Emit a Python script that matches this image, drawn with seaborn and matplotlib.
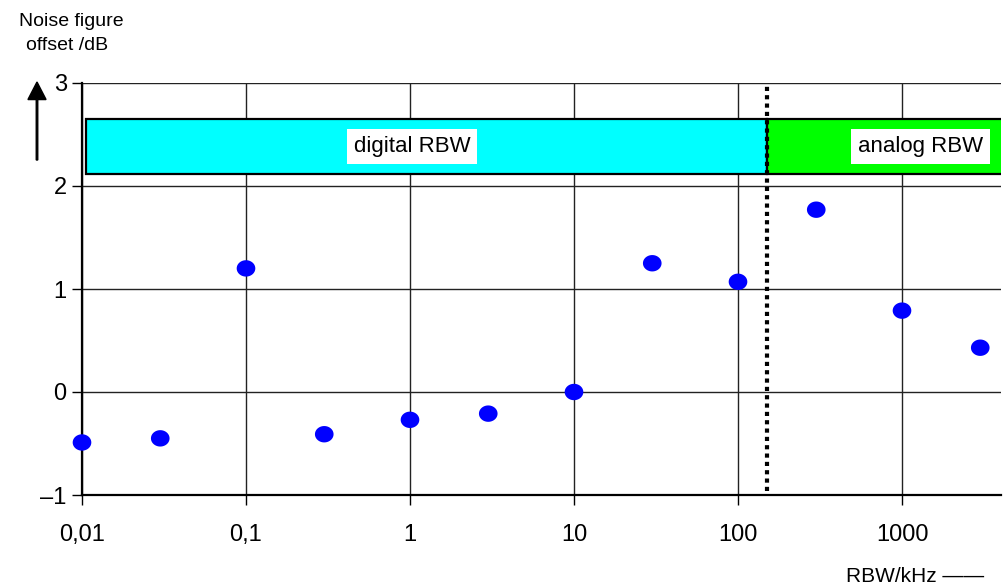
import numpy as np
import pandas as pd
import matplotlib
matplotlib.use("Agg")
import matplotlib.pyplot as plt
from matplotlib.path import Path
from matplotlib.patches import Rectangle
import seaborn as sns

# Data
rbw_khz = [0.01, 0.03, 0.1, 0.3, 1, 3, 10, 30, 100, 300, 1000, 3000]
nf_offset_db = [-0.49, -0.45, 1.20, -0.41, -0.27, -0.21, 0.0, 1.25, 1.07, 1.77, 0.79, 0.43]
x_ticks = [0.01, 0.1, 1, 10, 100, 1000]
x_tick_labels = ["0,01", "0,1", "1", "10", "100", "1000"]
y_ticks = [-1, 0, 1, 2, 3]
y_tick_labels = ["\u20131", "0", "1", "2", "3"]
boundary_khz = 151
region_labels = ["digital RBW", "analog RBW"]

sns.set_theme(style="white")
plt.rcParams['font.family'] = ['Liberation Sans', 'DejaVu Sans']
plt.rcParams['text.color'] = 'black'
plt.rcParams['xtick.color'] = 'black'
plt.rcParams['ytick.color'] = 'black'

W, H = 1006, 585
fig = plt.figure(figsize=(W / 100, H / 100), dpi=100)
ax = fig.add_axes([82 / W, 1 - 495 / H, (1001 - 82) / W, (495 - 83) / H])

df = pd.DataFrame({"rbw": rbw_khz, "nf": nf_offset_db})

# ellipse marker
t = np.linspace(0, 2 * np.pi, 60)
ell = Path(np.column_stack([np.cos(t), 0.88 * np.sin(t)]), closed=True)

ax.set_xscale("log")
xmax = 10 ** (-2 + (1001 - 82) / 164)
ax.set_xlim(0.01, xmax)
ax.set_ylim(-1, 3)

# region boxes
x_left = 10 ** (-2 + 4 / 164)
ax.add_patch(Rectangle((x_left, 2.12), boundary_khz - x_left, 2.65 - 2.12,
                       facecolor="#00FFFF", edgecolor="black", linewidth=1.6, zorder=2))
ax.add_patch(Rectangle((boundary_khz, 2.12), xmax * 2 - boundary_khz, 2.65 - 2.12,
                       facecolor="#00FF00", edgecolor="black", linewidth=1.6, zorder=2,
                       clip_on=True))

ax.text(10 ** (-2 + (412 - 82) / 164), 2.385, region_labels[0],
        ha="center", va="center", fontsize=16, zorder=4,
        bbox=dict(facecolor="white", edgecolor="none", pad=5))
ax.text(10 ** (-2 + (858 - 82) / 164), 2.385, region_labels[1],
        ha="left", va="center", fontsize=16, zorder=4, clip_on=True,
        bbox=dict(facecolor="white", edgecolor="none", pad=5))

ax.axvline(boundary_khz, ymin=0.01, ymax=1.0, color="black", linestyle=(0, (1, 1)),
           linewidth=3, zorder=3)

sns.scatterplot(data=df, x="rbw", y="nf", ax=ax, marker=ell, s=180,
                color="#0000FF", edgecolor="none", zorder=5, clip_on=False)

ax.set_xticks(x_ticks)
ax.set_xticklabels(x_tick_labels, fontsize=17)
ax.xaxis.set_minor_locator(matplotlib.ticker.NullLocator())
ax.set_yticks(y_ticks)
ax.set_yticklabels(y_tick_labels, fontsize=17)
ax.tick_params(axis="both", which="major", direction="out", length=7, width=1,
               color="black", bottom=True, left=True, pad=4)
ax.tick_params(axis="x", pad=14)
ax.grid(True, which="major", color="#222222", linewidth=1)
ax.set_axisbelow(True)
for s in ["top", "right"]:
    ax.spines[s].set_visible(False)
for s in ["left", "bottom"]:
    ax.spines[s].set_color("black")
    ax.spines[s].set_linewidth(1.6)
ax.set_xlabel("")
ax.set_ylabel("")

# titles
fig.text(71 / W, 1 - 21 / H, "Noise figure", ha="center", va="center", fontsize=14)
fig.text(67 / W, 1 - 46 / H, "offset /dB", ha="center", va="center", fontsize=14)
fig.text(846 / W, 1 - 576 / H, "RBW/kHz \u2014\u2014", ha="left", va="center", fontsize=15)
fig.patches.append(matplotlib.patches.FancyArrow(
    37 / W, 1 - 160 / H, 0, (160 - 82) / H, width=0.0015, head_width=0.018,
    head_length=0.03, length_includes_head=True, color="black",
    transform=fig.transFigure, figure=fig))

fig.savefig("out.png", dpi=100)
